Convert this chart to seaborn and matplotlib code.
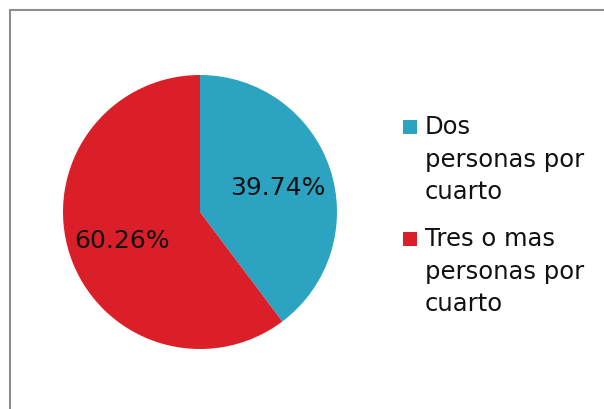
import matplotlib
matplotlib.use("Agg")
import matplotlib.pyplot as plt
import seaborn as sns
from matplotlib.lines import Line2D
from matplotlib.patches import Rectangle

sns.set_theme(style="white")
plt.rcParams['font.family'] = ['DejaVu Sans']

# Data
labels = ["Dos\npersonas por\ncuarto", "Tres o mas\npersonas por\ncuarto"]
values = [39.74, 60.26]
colors = ["#2CA3C1", "#DA1F28"]

W, H = 604, 409
fig = plt.figure(figsize=(W / 100, H / 100), dpi=100)

# pie centre (200, 212) px, radius 137 px
cx, cy, r = 200, 212, 137
ax = fig.add_axes([(cx - r) / W, (H - cy - r) / H, 2 * r / W, 2 * r / H])
wedges, texts, autotexts = ax.pie(
    values, colors=colors, startangle=90, counterclock=False,
    autopct='%.2f%%', pctdistance=0.6, radius=1,
    wedgeprops={'linewidth': 0},
    textprops={'fontsize': 18, 'color': '#111111'})
for t in autotexts:
    t.set_va('center_baseline')
ax.set_xlim(-1, 1)
ax.set_ylim(-1, 1)
ax.set_aspect('equal')
ax.axis('off')

# chart frame (cut off at right/bottom edges)
fx, fy = 9.5 / W, 1 - 10 / H
fig.add_artist(Line2D([fx, fx], [0, fy], color='#8c8c8c', lw=1.5,
                      transform=fig.transFigure))
fig.add_artist(Line2D([fx, 1], [fy, fy], color='#8c8c8c', lw=1.5,
                      transform=fig.transFigure))

# legend drawn by hand so the marker sits at the first line
first_baselines = [134, 246]
line_step = 32.5
for lab, col, y0 in zip(labels, colors, first_baselines):
    fig.add_artist(Rectangle((403 / W, 1 - y0 / H), 14 / W, 14 / H,
                             transform=fig.transFigure, facecolor=col,
                             edgecolor='none'))
    for i, line in enumerate(lab.split("\n")):
        fig.text(425 / W, 1 - (y0 + i * line_step) / H, line,
                 fontsize=17.5, color='#111111', va='baseline', ha='left')

fig.savefig('out.png', dpi=100)
